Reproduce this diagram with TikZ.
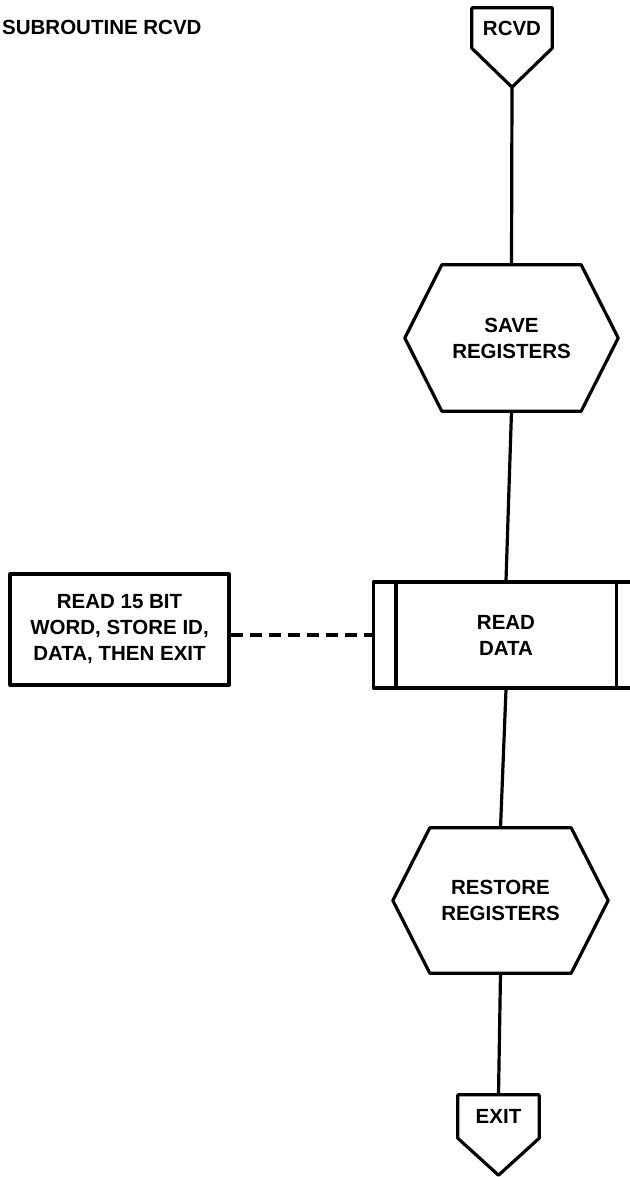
\documentclass[tikz,border=0pt]{standalone}
\usepackage{fontspec}
\setmainfont{Liberation Sans}
\begin{document}
\begin{tikzpicture}[x=1pt,y=-1pt,
  line join=round,
  txt/.style={font=\bfseries\fontsize{20.5}{26}\selectfont, align=center, inner sep=0pt},
  frame/.style={draw=black, line width=3.2pt},
  link/.style={draw=black, line width=3.2pt},
  dashlink/.style={draw=black, line width=3.2pt, dash pattern=on 12pt off 7pt}]
\useasboundingbox (0,0) rectangle (629,1177);
\fill[white] (0,0) rectangle (629,1177);

% title
\node[txt, anchor=base west] (title) at (2,35) {SUBROUTINE RCVD};

% entry connector
\node[txt, minimum width=80pt, minimum height=40pt] (rcvd) at (512,28) {\raisebox{-9pt}{RCVD}};
\draw[frame] (rcvd.south west) -- (rcvd.north west) -- (rcvd.north east) -- (rcvd.south east)
  -- ([yshift=-39pt]rcvd.south) -- cycle;
\coordinate (rcvdtip) at ([yshift=-39pt]rcvd.south);

% save registers
\node[txt, minimum width=213pt, minimum height=146pt] (save) at (511.5,338) {SAVE\\REGISTERS};
\draw[frame] ([xshift=37pt]save.north west) -- ([xshift=-37pt]save.north east) -- (save.east)
  -- ([xshift=-37pt]save.south east) -- ([xshift=37pt]save.south west) -- (save.west) -- cycle;

% read data (predefined process)
\node[txt, frame, minimum width=265pt, minimum height=106pt] (read) at (506,635) {READ\\DATA};
\draw[frame] ([xshift=24pt]read.north west) -- ([xshift=24pt]read.south west);
\draw[frame] ([xshift=-24pt]read.north east) -- ([xshift=-24pt]read.south east);

% annotation
\node[txt, frame, minimum width=219pt, minimum height=111pt] (note) at (119.5,629.5)
  {READ 15 BIT\\WORD, STORE ID,\\DATA, THEN EXIT};

% restore registers
\node[txt, minimum width=215pt, minimum height=145pt] (restore) at (500.5,900.5) {RESTORE\\REGISTERS};
\draw[frame] ([xshift=37pt]restore.north west) -- ([xshift=-37pt]restore.north east) -- (restore.east)
  -- ([xshift=-37pt]restore.south east) -- ([xshift=37pt]restore.south west) -- (restore.west) -- cycle;

% exit connector
\node[txt, minimum width=81pt, minimum height=43pt] (exit) at (498.5,1116.5) {\raisebox{-7pt}{EXIT}};
\draw[frame] (exit.south west) -- (exit.north west) -- (exit.north east) -- (exit.south east)
  -- ([yshift=-37pt]exit.south) -- cycle;

% connectors
\draw[link] (rcvdtip) -- (save.north);
\draw[link] (save.south) -- (read.north);
\draw[link] (read.south) -- (restore.north);
\draw[link] (restore.south) -- (exit.north);
\draw[dashlink] (note.east |- read.west) -- (read.west);
\end{tikzpicture}
\end{document}
